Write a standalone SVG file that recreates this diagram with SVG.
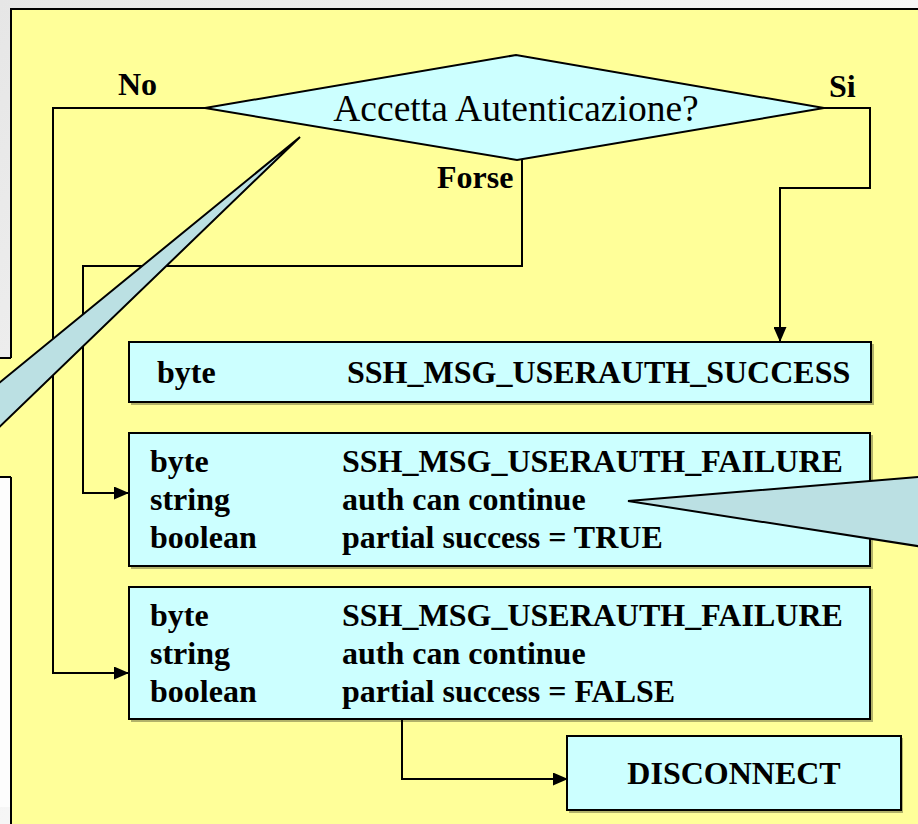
<svg xmlns="http://www.w3.org/2000/svg" width="918" height="824" viewBox="0 0 918 824">
  <defs>
    <linearGradient id="bg" x1="0" y1="0" x2="1" y2="1">
      <stop offset="0" stop-color="#e6e6e6"/>
      <stop offset="0.5" stop-color="#f6f6f6"/>
      <stop offset="1" stop-color="#fcfcfc"/>
    </linearGradient>
    <marker id="arr" markerWidth="15" markerHeight="13" refX="14" refY="6.5" orient="auto" markerUnits="userSpaceOnUse">
      <path d="M0,0 L15,6.5 L0,13 Z" fill="#000"/>
    </marker>
    <style>
      .box { fill: #CCFFFF; stroke: #000; stroke-width: 2; }
      .shadow { fill: #000; opacity: 0.3; }
      .callout { fill: #BBE0E3; stroke: #000; stroke-width: 2; stroke-linejoin: miter; }
      .conn { fill: none; stroke: #000; stroke-width: 2; }
      .t { font-family: "Liberation Serif", "Times New Roman", serif; font-weight: bold; font-size: 32px; fill: #000; }
      .q { font-family: "Liberation Serif", "Times New Roman", serif; font-size: 37.5px; fill: #000; }
    </style>
  </defs>

  <!-- background -->
  <rect x="0" y="0" width="918" height="824" fill="url(#bg)"/>
  <!-- yellow panel -->
  <rect x="11" y="9" width="930" height="840" fill="#FFFF99" stroke="#000" stroke-width="2"/>
  <!-- left strip pieces -->
  <rect x="-2" y="358" width="14" height="119" fill="#FFFF99"/>
  <path d="M0,358 H11 M0,477 H11" stroke="#000" stroke-width="2" fill="none"/>
  <rect x="0" y="478" width="10" height="329" fill="#fdfdfd"/>
  <path d="M11,477 V824" stroke="#000" stroke-width="2"/>

  <!-- decision -->
  <g id="decision">
    <polygon points="205,108 516,55 824,108 517,160" fill="#CCFFFF" stroke="#000" stroke-width="2"/>
    <text class="q" x="516" y="121" text-anchor="middle">Accetta Autenticazione?</text>
  </g>

  <g id="success">
    <rect class="shadow" x="131" y="344" width="743" height="61"/>
    <rect class="box" x="129" y="342" width="742" height="60"/>
    <text class="t" x="157" y="383">byte</text>
    <text class="t" x="347" y="383">SSH_MSG_USERAUTH_SUCCESS</text>
  </g>

  <g id="failure-true">
    <rect class="shadow" x="131" y="435" width="742" height="134"/>
    <rect class="box" x="129" y="433" width="741" height="133"/>
    <text class="t" x="150" y="472">byte</text>
    <text class="t" x="150" y="510">string</text>
    <text class="t" x="150" y="548">boolean</text>
    <text class="t" x="342" y="472">SSH_MSG_USERAUTH_FAILURE</text>
    <text class="t" x="342" y="510">auth can continue</text>
    <text class="t" x="342" y="548">partial success = TRUE</text>
  </g>

  <g id="failure-false">
    <rect class="shadow" x="131" y="589" width="742" height="133"/>
    <rect class="box" x="129" y="587" width="741" height="132"/>
    <text class="t" x="150" y="626">byte</text>
    <text class="t" x="150" y="664">string</text>
    <text class="t" x="150" y="702">boolean</text>
    <text class="t" x="342" y="626">SSH_MSG_USERAUTH_FAILURE</text>
    <text class="t" x="342" y="664">auth can continue</text>
    <text class="t" x="342" y="702">partial success = FALSE</text>
  </g>

  <g id="disconnect">
    <rect class="shadow" x="569" y="738" width="334" height="75"/>
    <rect class="box" x="567" y="736" width="334" height="74"/>
    <text class="t" x="734" y="784" text-anchor="middle">DISCONNECT</text>
  </g>

  <!-- connectors -->
  <g id="connectors">
    <path class="conn" d="M205,108 H53 V673 H128" marker-end="url(#arr)"/>
    <path class="conn" d="M522,159 V266 H83 V493 H128" marker-end="url(#arr)"/>
    <path class="conn" d="M824,108 H870 V188 H780 V341" marker-end="url(#arr)"/>
    <path class="conn" d="M402,719 V779 H567" marker-end="url(#arr)"/>
  </g>

  <!-- labels -->
  <g id="labels">
    <text class="t" x="118" y="95">No</text>
    <text class="t" x="829" y="97">Si</text>
    <text class="t" x="437" y="188">Forse</text>
  </g>

  <!-- callouts -->
  <g id="callout-left">
    <polygon class="callout" points="300,137 -12,392 -12,438"/>
  </g>
  <g id="callout-right">
    <polygon class="callout" points="628,501 930,476 930,548"/>
  </g>
</svg>
